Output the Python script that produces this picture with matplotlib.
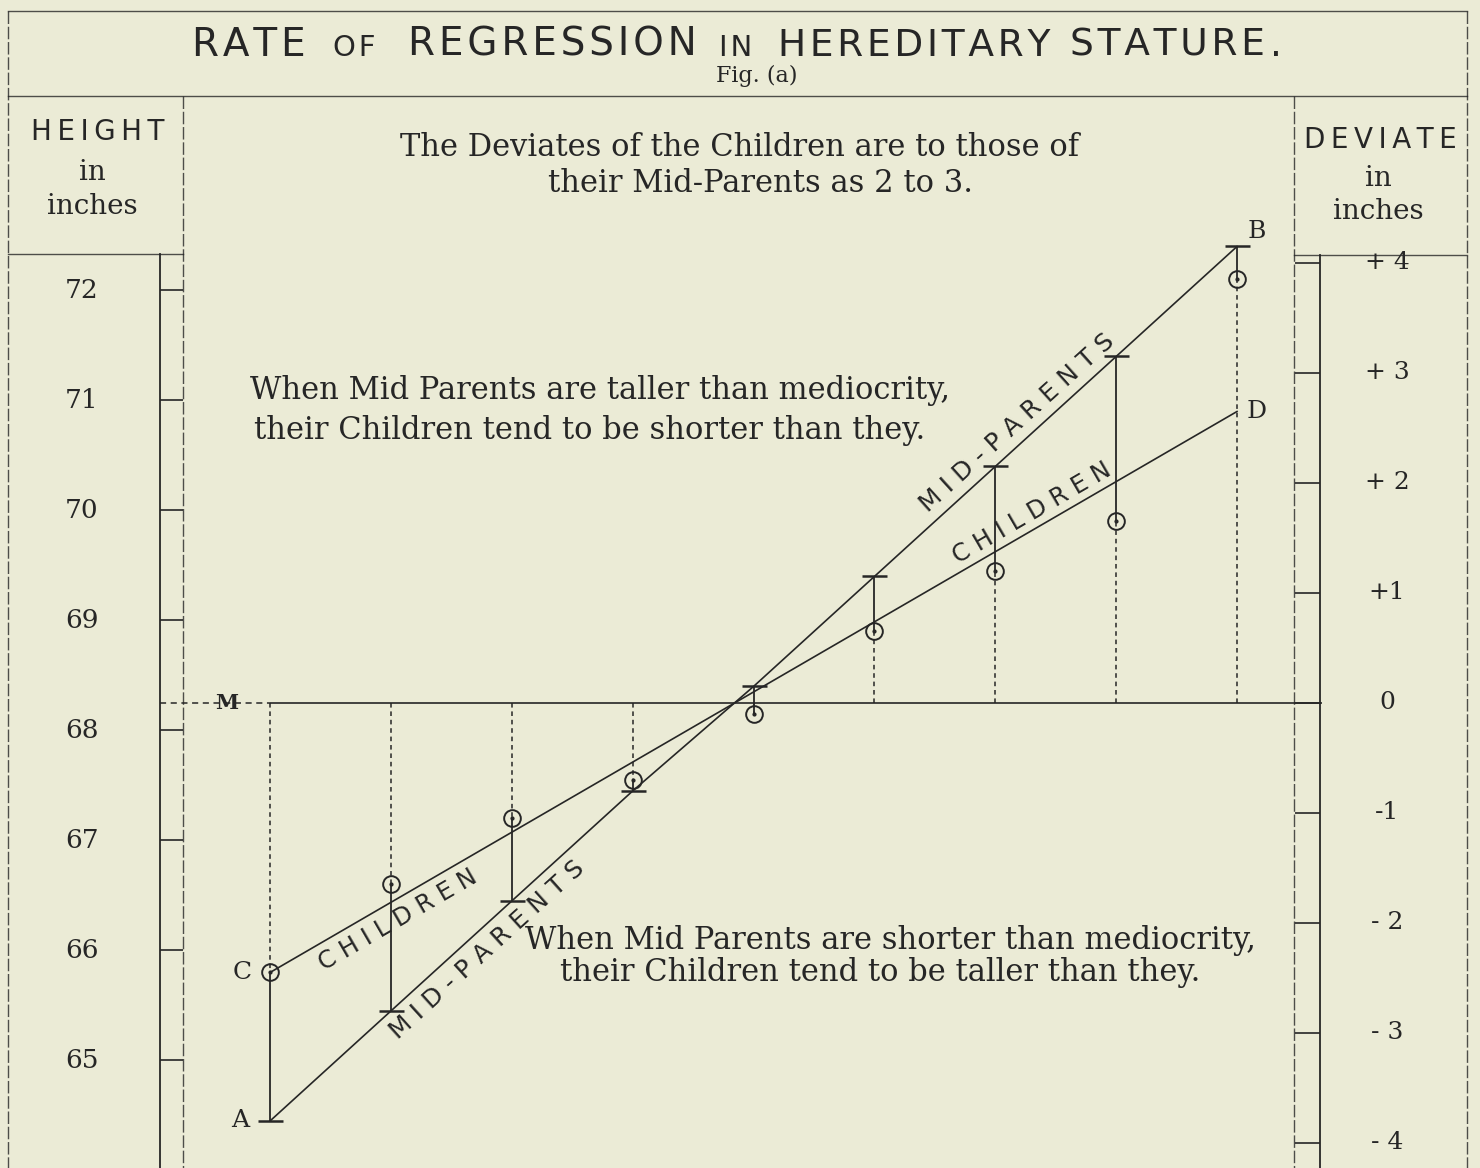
import numpy as np
import matplotlib.pyplot as plt
from matplotlib import transforms

# Galton, mid-parent heights against the median height of their children
mid_parent = [64.5, 65.5, 66.5, 67.5, 68.5, 69.5, 70.5, 71.5, 72.5]
mid_parent_level = [64.45, 65.45, 66.45, 67.45, 68.4, 69.4, 70.4, 71.4, 72.4]
children = [65.8, 66.6, 67.2, 67.55, 68.15, 68.9, 69.45, 69.9, 72.1]
children_line = [65.8, 70.9]          # C ... D
mediocrity = 68.25
height_ticks = [65, 66, 67, 68, 69, 70, 71, 72]
deviate_ticks = [-4, -3, -2, -1, 0, 1, 2, 3, 4]
deviate_labels = ['- 4', '- 3', '- 2', '-1', '0', '+1', '+ 2', '+ 3', '+ 4']

W, H = 1480, 1168
paper = '#ebebd6'
ink = '#262626'
serif = ['DejaVu Serif']
sans = ['DejaVu Sans']
HAIR = '\u200a'
THIN = '\u2009'


def spaced(word, sep):
    return sep.join(word)


fig = plt.figure(figsize=(W / 100, H / 100), dpi=100, facecolor=paper)
ax = fig.add_axes([0, 0, 1, 1])
ax.set_facecolor(paper)
ax.axis('off')

# pixel scale of the drawing: 120.9 px per inch across, 110 px per inch up
kx, ky = 120.875, 110.0
x0 = mid_parent[0] - 270 / kx
y_top = mediocrity + 703 / ky
ax.set_xlim(x0, x0 + W / kx)
ax.set_ylim(y_top - H / ky, y_top)


def fx(px):
    return px / W


def fy(py):
    return 1 - py / H


def dx(px):
    return x0 + px / kx


frame = dict(color=ink, lw=1.0, transform=ax.transAxes, alpha=0.8)
dash = (0, (9, 2))
# outer frame and column rules
ax.plot([fx(8), fx(1467)], [fy(11), fy(11)], **frame)
ax.plot([fx(8), fx(1467)], [fy(96), fy(96)], **frame)
ax.plot([fx(8), fx(8)], [fy(11), fy(H)], ls=dash, **frame)
ax.plot([fx(1467), fx(1467)], [fy(11), fy(H)], ls=dash, **frame)
ax.plot([fx(183), fx(183)], [fy(96), fy(H)], ls=dash, **frame)
ax.plot([fx(1294), fx(1294)], [fy(96), fy(H)], ls=dash, **frame)
ax.plot([fx(8), fx(183)], [fy(254), fy(254)], **frame)
ax.plot([fx(1294), fx(1467)], [fy(255), fy(255)], **frame)
ax.plot([fx(160), fx(160)], [fy(254), fy(H)], color=ink, lw=1.3, transform=ax.transAxes)
ax.plot([fx(1320), fx(1320)], [fy(255), fy(H)], color=ink, lw=1.3, transform=ax.transAxes)

# scales
side = transforms.blended_transform_factory(ax.transAxes, ax.transData)
ax.hlines(height_ticks, fx(160), fx(183), color=ink, lw=1.2, transform=side)
for h in height_ticks:
    ax.text(fx(82), h, str(h), transform=side, ha='center', va='center',
            fontsize=19, family=serif, color=ink)
dev_levels = [mediocrity + d for d in deviate_ticks]
ax.hlines(dev_levels, fx(1295), fx(1320), color=ink, lw=1.2, transform=side)
for lv, lab in zip(dev_levels, deviate_labels):
    ax.text(fx(1387), lv, lab, transform=side, ha='center', va='center',
            fontsize=18, family=serif, color=ink)

# mediocrity line M
ax.hlines(mediocrity, dx(160), mid_parent[0], color=ink, lw=1.1, linestyles=(0, (4, 3)))
ax.hlines(mediocrity, mid_parent[0], dx(1322), color=ink, lw=1.2)
ax.text(dx(227), mediocrity, 'M', ha='center', va='center', fontsize=15,
        family=serif, weight='bold', color=ink)

# verticals: dotted from M to the children, solid from children to mid-parents
ax.vlines(mid_parent, mediocrity, children, color=ink, lw=1.1, linestyles=(0, (3, 2.5)))
ax.vlines(mid_parent, children, mid_parent_level, color=ink, lw=1.3)

# the two regression lines
ax.plot(mid_parent, mid_parent_level, color=ink, lw=1.2)
ax.plot([mid_parent[0], mid_parent[-1]], children_line, color=ink, lw=1.2)
ax.plot(mid_parent, mid_parent_level, ls='none', marker='_', ms=18, mew=1.8, color=ink)
ax.plot(mid_parent, children, ls='none', marker='o', ms=12, mfc='none', mec=ink, mew=1.4)
ax.plot(mid_parent, children, ls='none', marker='.', ms=4, color=ink)

# point letters
lab = dict(textcoords='offset pixels', ha='center', va='center', fontsize=18,
           family=serif, color=ink)
ax.annotate('A', (mid_parent[0], mid_parent_level[0]), xytext=(-30, 0), **lab)
ax.annotate('C', (mid_parent[0], children_line[0]), xytext=(-28, 0), **lab)
ax.annotate('B', (mid_parent[-1], mid_parent_level[-1]), xytext=(20, 15), **lab)
ax.annotate('D', (mid_parent[-1], children_line[1]), xytext=(20, 0), **lab)


def screen_angle(xs, ys):
    p = ax.transData.transform(np.column_stack([xs, ys]))
    return np.degrees(np.arctan2(p[-1, 1] - p[0, 1], p[-1, 0] - p[0, 0]))


ang_mp = screen_angle([mid_parent[0], mid_parent[-1]], [mid_parent_level[0], mid_parent_level[-1]])
ang_ch = screen_angle([mid_parent[0], mid_parent[-1]], children_line)

line_lab = dict(textcoords='offset pixels', ha='center', va='center',
                family=sans, color=ink, rotation_mode='anchor')
for px, off in [(1017, 24), (487, -26)]:
    xv = dx(px)
    yv = np.interp(xv, mid_parent, mid_parent_level)
    ax.annotate('M I D - P A R E N T S', (xv, yv), xytext=(0, off), rotation=ang_mp,
                fontsize=18, **line_lab)
for px, off in [(1032, 17), (398, -22)]:
    xv = dx(px)
    yv = np.interp(xv, [mid_parent[0], mid_parent[-1]], children_line)
    ax.annotate('C H I L D R E N', (xv, yv), xytext=(0, off), rotation=ang_ch,
                fontsize=17.5, **line_lab)

# title
ty = fy(56)
for word, x, size in [('RATE', 192, 28), ('OF', 333, 21), ('REGRESSION', 408, 28),
                      ('IN', 719, 21), ('HEREDITARY', 778, 27), ('STATURE', 1070, 27),
                      ('.', 1270, 27)]:
    ax.text(fx(x), ty, spaced(word, HAIR), transform=ax.transAxes, ha='left',
            va='baseline', fontsize=size, family=sans, color=ink)
ax.text(fx(757), fy(76), 'Fig. (a)', transform=ax.transAxes, ha='center', va='center',
        fontsize=16, family=serif, color=ink)

# column headers
hdr = dict(transform=ax.transAxes, ha='center', va='center', color=ink)
ax.text(fx(98), fy(132), spaced('HEIGHT', THIN), fontsize=20, family=sans, **hdr)
ax.text(fx(92), fy(173), 'in', fontsize=20, family=serif, **hdr)
ax.text(fx(92), fy(206), 'inches', fontsize=20, family=serif, **hdr)
ax.text(fx(1380), fy(140), spaced('DEVIATE', THIN), fontsize=20, family=sans, **hdr)
ax.text(fx(1378), fy(178), 'in', fontsize=20, family=serif, **hdr)
ax.text(fx(1378), fy(212), 'inches', fontsize=20, family=serif, **hdr)

# notes
note = dict(transform=ax.transAxes, ha='center', va='center', fontsize=22,
            family=serif, color=ink)
ax.text(fx(739), fy(147), 'The Deviates of the Children are to those of', **note)
ax.text(fx(760), fy(183), 'their Mid-Parents as 2 to 3.', **note)
ax.text(fx(600), fy(390), 'When Mid Parents are taller than mediocrity,', **note)
ax.text(fx(590), fy(430), 'their Children tend to be shorter than they.', **note)
ax.text(fx(890), fy(940), 'When Mid Parents are shorter than mediocrity,', **note)
ax.text(fx(880), fy(973), 'their Children tend to be taller than they.', **note)

fig.savefig('out.png', dpi=100, facecolor=paper)
